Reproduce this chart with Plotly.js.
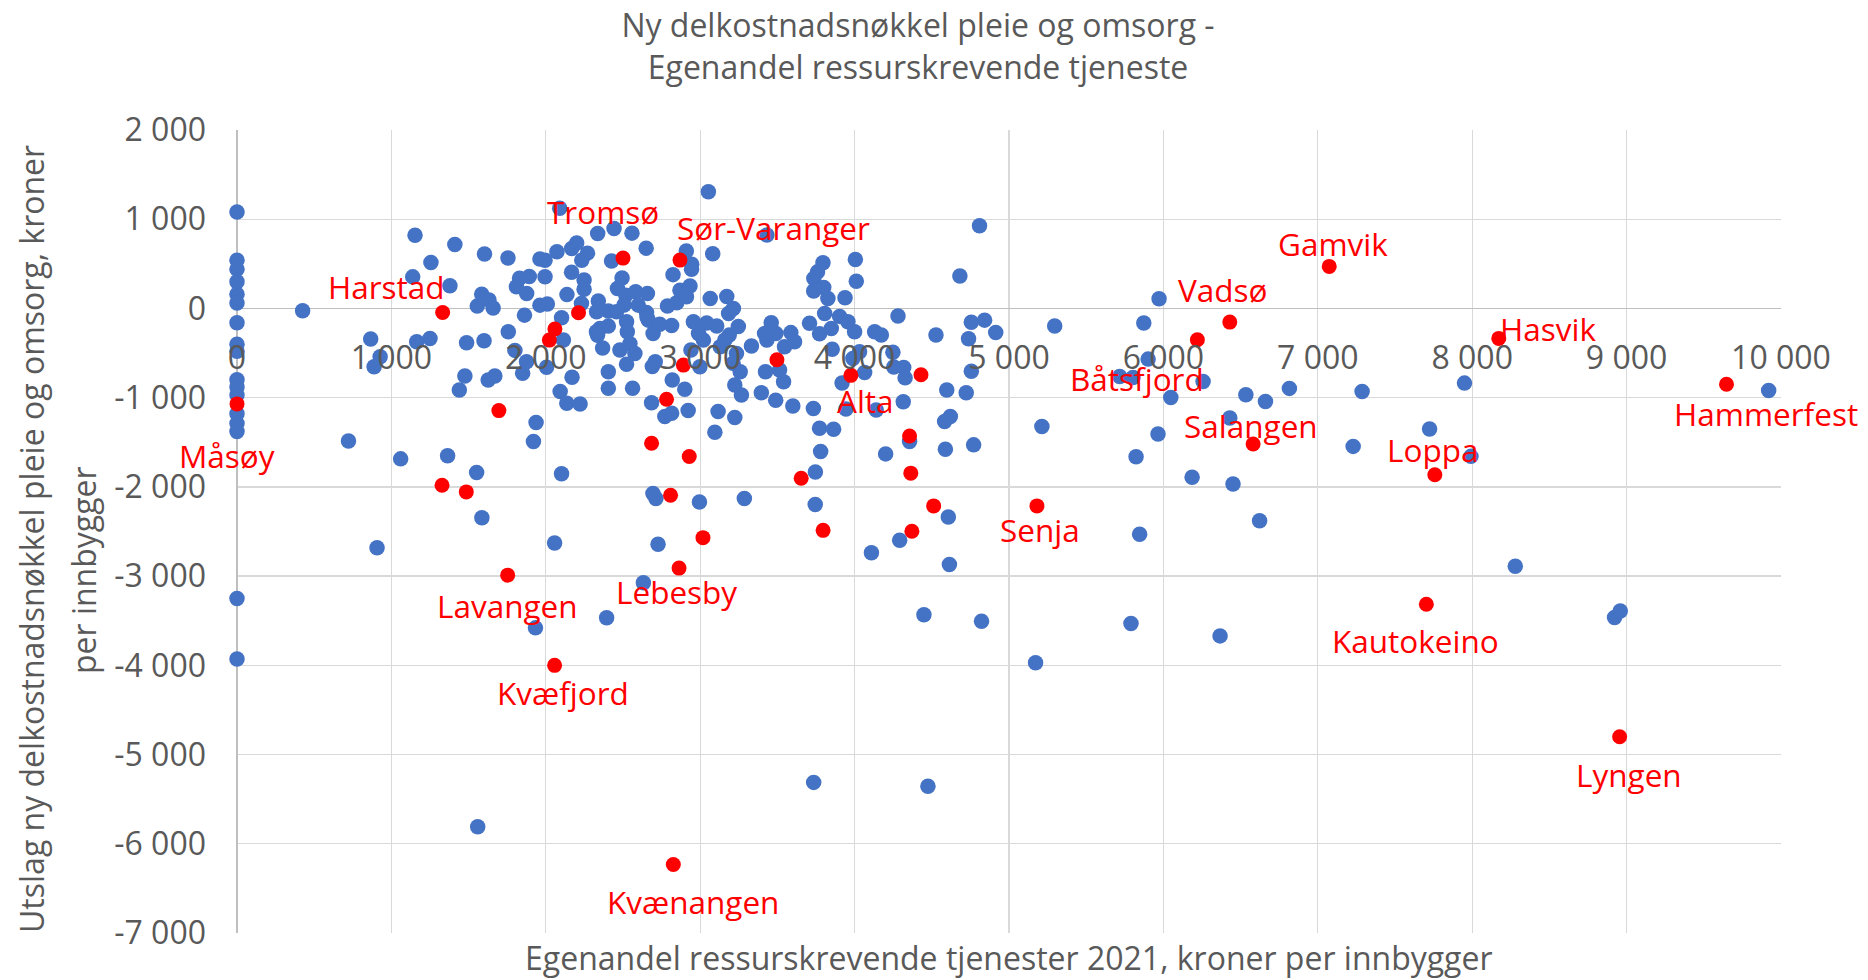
<!DOCTYPE html>
<html>
<head>
<meta charset="utf-8">
<script src="https://cdn.plot.ly/plotly-3.0.1.min.js"></script>
<style>html,body{margin:0;padding:0;background:#fff}#chart{width:1868px;height:980px}</style>
</head>
<body>
<div id="chart"></div>
<script>
// ---------- DATA ----------
const blueX = [
0,0,0,0,0,0,0,0,0,0,0,0,0,0,0,0,0,
425,722,866,927,888,907,1060,1153,1138,1164,1250,1256,1364,1379,1411,1440,1476,1487,
1552,1556,1559,1585,1586,1600,1603,1632,1659,1627,1670,1755,1810,1830,1893,1876,1862,1757,1800,1850,1875,2005,1920,1937,1933,1962,1995,1962,2010,1995,
2090,2072,2168,2200,2270,2233,2167,2248,2248,2137,2102,2114,2093,2136,2222,2102,2170,2057,2336,2442,2558,2650,2426,2494,2464,2518,2582,2658,2340,2405,2329,2231,2507,2599,2458,2652,2664,2523,2528,2405,2351,2328,2335,2368,2480,2545,2577,2523,2405,2405,2562,2394,2695,2690,
2788,2848,2869,2934,2911,2910,2945,2944,2824,2956,3042,3107,2738,2815,2655,2940,2998,2989,3021,2709,2819,2900,2685,2771,2815,2922,2694,2713,2727,2632,2995,
3053,3081,3432,3065,3172,3215,3184,3247,3188,3160,3130,3235,3213,3259,3332,3460,3432,3490,3417,3587,3546,3611,3514,3423,3540,3489,3396,3267,3224,3116,3224,3095,3286,
3708,3773,3849,3806,3903,3957,4000,3795,3760,3736,3735,3800,3827,3938,4005,4011,3855,3989,4032,3600,3733,3919,3944,4065,3773,3864,3780,3746,3745,3735,
4281,4130,4173,4527,4756,4842,4914,4738,4248,4254,4318,4327,4140,4315,4756,4597,4723,4620,4583,4356,4201,4588,4771,4809,4682,4607,4292,4109,4614,4449,4822,4475,
5296,5213,5172,5846,5823,5972,5873,5901,5717,5803,6257,6048,6534,6661,6816,7287,7950,5965,6430,7229,7724,7992,6186,6451,6623,5790,6367,8279,8922,8959,9920
];
const blueY = [
1080,540,440,300,160,60,-160,-400,-480,-800,-880,-970,-1180,-1290,-1380,-3250,-3930,
-25,-1485,-343,-541,-653,-2682,-1686,821,354,-373,-336,515,-1652,254,716,-914,-757,-384,
-1839,26,-5809,158,-2345,-362,610,96,4,-802,-756,565,242,338,358,168,-75,-261,-470,-727,-598,-660,-1492,-1279,-3580,553,541,37,50,355,
1124,635,671,733,620,541,405,318,215,155,-105,-354,-932,-1063,-1071,-1852,-770,-2629,840,896,844,676,532,342,224,149,187,168,84,-28,-37,56,38,37,-37,-46,-131,-149,-261,-198,-224,-262,-300,-444,-466,-396,-504,-625,-710,-895,-895,-3466,-280,-650,
28,65,205,252,131,644,495,440,379,-149,-164,-196,-178,-192,-93,-466,-653,-280,-355,-598,-802,-906,-1056,-1212,-1175,-1145,-2075,-2131,-2644,-3075,-2169,
1307,612,822,112,135,0,-56,-202,-299,-354,-430,-504,-615,-710,-420,-160,-355,-280,-280,-271,-429,-373,-690,-709,-821,-1030,-944,-970,-858,-1156,-1223,-1388,-2131,
-165,-285,-224,-56,-89,-149,-262,512,410,336,195,234,112,121,549,304,-457,-561,-485,-1093,-1122,-836,-1126,-718,-1343,-1354,-1604,-1834,-2198,-5312,
-84,-261,-298,-298,-155,-131,-269,-340,-491,-657,-662,-778,-1139,-1045,-704,-915,-944,-1210,-1268,-1492,-1630,-1578,-1529,928,364,-2337,-2599,-2738,-2869,-3434,-3505,-5356,
-196,-1323,-3970,-2530,-1662,108,-164,-568,-762,-773,-818,-997,-967,-1042,-896,-930,-837,-1408,-1229,-1546,-1352,-1658,-1892,-1967,-2380,-3532,-3670,-2890,-3465,-3390,-920
];
const redNames = [
"Måsøy","Harstad","Tromsø","Sør-Varanger","Gamvik","Vadsø","Hasvik","Båtsfjord","Alta","Salangen",
"Loppa","Hammerfest","Senja","Lavangen","Lebesby","Kvæfjord","Kautokeino","Lyngen","Kvænangen",
"","","","","","","","","","","","","","","","","","","",""
];
const redX = [
0,1332,2500,2869,7074,6430,8172,6220,3976,6581,
7758,9647,5181,1753,2863,2057,7703,8955,2826,
2212,2059,2023,2891,2782,3497,1696,1328,1485,2808,3018,2685,2929,3654,3796,4364,4371,4512,4356,4430
];
const redY = [
-1070,-45,564,542,471,-153,-336,-351,-750,-1520,
-1864,-850,-2213,-2989,-2910,-4000,-3315,-4800,-6232,
-48,-230,-355,-635,-1018,-575,-1145,-1981,-2056,-2094,-2569,-1511,-1660,-1904,-2487,-1846,-2498,-2213,-1429,-743
];
const xTickVals = [0,1000,2000,3000,4000,5000,6000,7000,8000,9000,10000];
const xTickText = ["0","1 000","2 000","3 000","4 000","5 000","6 000","7 000","8 000","9 000","10 000"];
const yTickVals = [-7000,-6000,-5000,-4000,-3000,-2000,-1000,0,1000,2000];
const yTickText = ["-7 000","-6 000","-5 000","-4 000","-3 000","-2 000","-1 000","0","1 000","2 000"];
const xRange = [0,10000];
const yRange = [-7000,2000];
const chartTitle = "Ny delkostnadsnøkkel pleie og omsorg -<br>Egenandel ressurskrevende tjeneste";
const xTitle = "Egenandel ressurskrevende tjenester 2021, kroner per innbygger";
const yTitle1 = "Utslag ny delkostnadsnøkkel pleie og omsorg, kroner";
const yTitle2 = "per innbygger";

// ---------- STYLE ----------
const FONT = "Open Sans, Noto Sans, sans-serif";
const GREY = "#595959";
const labelOffset = { // pixel offsets [dx, dy(down)]
  "Måsøy":[-10,52],"Harstad":[-56,-26],"Tromsø":[-20,-47],"Sør-Varanger":[94,-33],
  "Gamvik":[4,-23],"Vadsø":[-7,-33],"Hasvik":[49,-10],"Båtsfjord":[-60,39],
  "Alta":[15,25],"Salangen":[-2,-19],"Loppa":[-2,-25],"Hammerfest":[39,29],
  "Senja":[3,24],"Lavangen":[0,30],"Lebesby":[-3,23],"Kvæfjord":[8,27],
  "Kautokeino":[-11,36],"Lyngen":[9,38],"Kvænangen":[20,37]
};

const traces = [
  {x: blueX, y: blueY, type: "scatter", mode: "markers", cliponaxis: false, hoverinfo: "skip",
   marker: {color: "#4472C4", size: 15.5, line: {width: 0}}},
  {x: redX, y: redY, type: "scatter", mode: "markers", cliponaxis: false, hoverinfo: "skip",
   marker: {color: "#FF0000", size: 15, line: {width: 0}}}
];

const annotations = [];
redNames.forEach((n, i) => {
  if (!n) return;
  const o = labelOffset[n] || [0, 25];
  annotations.push({x: redX[i], y: redY[i], xref: "x", yref: "y", text: n, showarrow: false,
    xanchor: "center", yanchor: "middle", xshift: o[0], yshift: -o[1],
    font: {family: FONT, size: 31.5, color: "#FF0000"}});
});
annotations.push({x: 0.5, y: 0, xref: "paper", yref: "paper", text: xTitle, showarrow: false,
  xanchor: "center", yanchor: "middle", yshift: -24, font: {family: FONT, size: 32, color: GREY}});
annotations.push({x: 0, y: 0.4907, xref: "paper", yref: "paper", text: yTitle1, showarrow: false,
  textangle: -90, xanchor: "center", yanchor: "middle", xshift: -205, font: {family: FONT, size: 32, color: GREY}});
annotations.push({x: 0, y: 0.452, xref: "paper", yref: "paper", text: yTitle2, showarrow: false,
  textangle: -90, xanchor: "center", yanchor: "middle", xshift: -154, font: {family: FONT, size: 32, color: GREY}});

const layout = {
  width: 1868, height: 980,
  margin: {l: 237, r: 87, t: 130, b: 47},
  paper_bgcolor: "#ffffff", plot_bgcolor: "#ffffff",
  showlegend: false,
  title: {text: chartTitle, x: 918/1868, xanchor: "center", xref: "container",
          y: 1 - 37/980, yanchor: "top", yref: "container",
          font: {family: FONT, size: 32, color: GREY}},
  xaxis: {range: xRange, tickvals: xTickVals, ticktext: xTickText, showgrid: true,
          gridcolor: "#D9D9D9", gridwidth: 1.3, zeroline: true, zerolinecolor: "#BFBFBF", zerolinewidth: 1.3,
          showline: false, ticks: "", anchor: "free",
          position: (0 - yRange[0]) / (yRange[1] - yRange[0]),
          ticklabelstandoff: 28, tickfont: {family: FONT, size: 32, color: GREY}, fixedrange: true},
  yaxis: {range: yRange, tickvals: yTickVals, ticktext: yTickText, showgrid: true,
          gridcolor: "#D9D9D9", gridwidth: 1.3, zeroline: true, zerolinecolor: "#BFBFBF", zerolinewidth: 1.3,
          showline: false, ticks: "", ticklabelstandoff: 30,
          tickfont: {family: FONT, size: 32, color: GREY}, fixedrange: true},
  annotations: annotations
};

Plotly.newPlot("chart", traces, layout, {displayModeBar: false, staticPlot: true});
</script>
</body>
</html>
